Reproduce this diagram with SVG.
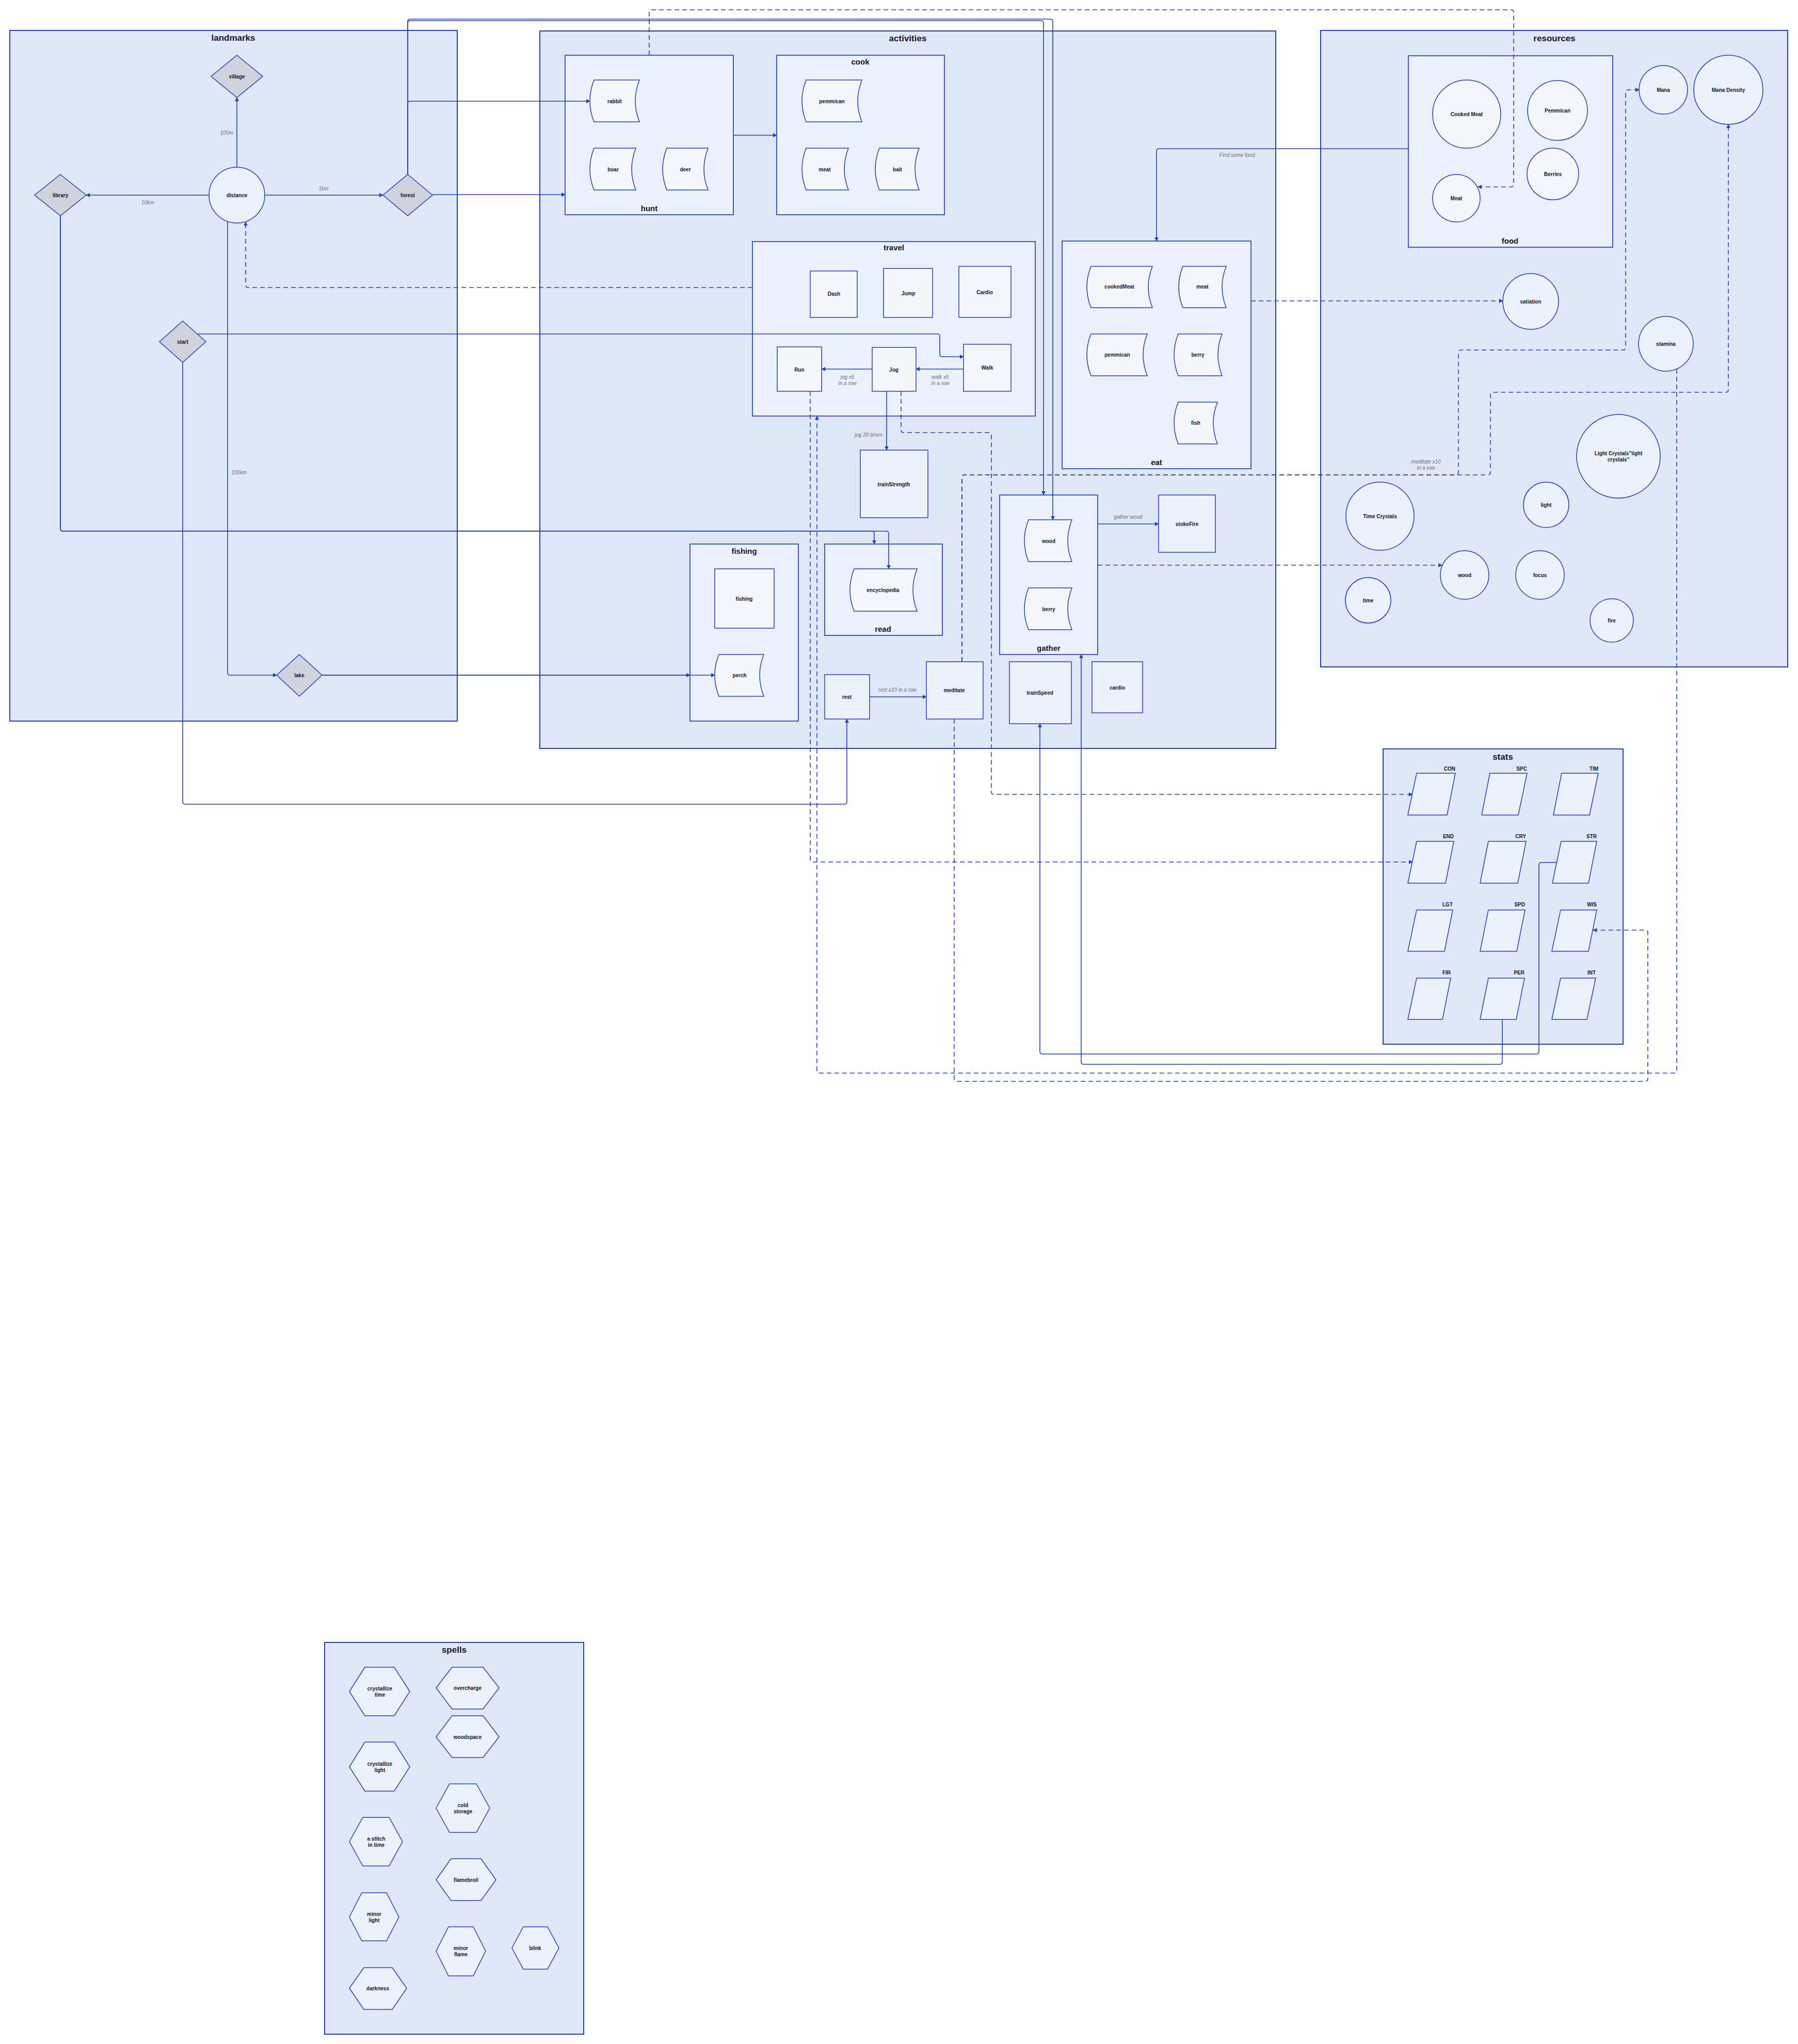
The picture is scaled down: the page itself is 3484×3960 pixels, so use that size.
<svg xmlns="http://www.w3.org/2000/svg" width="3484" height="3960" viewBox="0 0 3484 3960">
<defs>
<style>
.c0{fill:#e0e7f9;stroke:#1f40c8;stroke-width:2}
.c1{fill:#ebf0fc;stroke:#1f40c8;stroke-width:1.7}
.n{fill:#f5f7fd;stroke:#1f40c8;stroke-width:1.5}
.m{fill:#edf1fc;stroke:#1f40c8;stroke-width:1.5}
.d{fill:#d0d2de;stroke:#1f40c8;stroke-width:1.5}
text{font-family:"Liberation Sans",Arial,sans-serif;font-size:10px;font-weight:bold;fill:#111827;text-anchor:middle;dominant-baseline:central}
.tt{font-size:17px}
.ts{font-size:15px}
.sl{text-anchor:end}
.el{font-style:italic;font-weight:normal;fill:#6b7280}
.e{fill:none;stroke:#1f40c8;stroke-width:1.6}
.ed{stroke-dasharray:9 6}
</style>
<marker id="a" viewBox="0 0 10 10" refX="9" refY="5" markerWidth="8" markerHeight="8" markerUnits="userSpaceOnUse" orient="auto"><path d="M0,0 L10,5 L0,10 z" fill="#1f40c8"/></marker>
</defs>
<rect width="3484" height="3960" fill="#ffffff"/>

<g id="clusters">
<g id="landmarks"><rect class="c0" x="19" y="59" width="867" height="1338"/><text class="tt" x="452" y="73">landmarks</text></g>
<g id="activities"><rect class="c0" x="1046" y="60" width="1426" height="1390"/><text class="tt" x="1759" y="74">activities</text></g>
<g id="hunt"><rect class="c1" x="1095" y="107" width="326" height="309"/><text class="ts" x="1258" y="403">hunt</text></g>
<g id="cook"><rect class="c1" x="1505" y="107" width="325" height="309"/><text class="ts" x="1667" y="119">cook</text></g>
<g id="travel"><rect class="c1" x="1458" y="468" width="548" height="338"/><text class="ts" x="1732" y="479">travel</text></g>
<g id="eat"><rect class="c1" x="2058" y="467" width="366" height="441"/><text class="ts" x="2241" y="895">eat</text></g>
<g id="fishingC"><rect class="c1" x="1337" y="1054" width="210" height="343"/><text class="ts" x="1442" y="1067">fishing</text></g>
<g id="read"><rect class="c1" x="1598" y="1054" width="228" height="177"/><text class="ts" x="1711" y="1218">read</text></g>
<g id="gather"><rect class="c1" x="1937" y="959" width="190" height="309"/><text class="ts" x="2032" y="1255">gather</text></g>
<g id="resources"><rect class="c0" x="2559" y="59" width="905" height="1233"/><text class="tt" x="3012" y="74">resources</text></g>
<g id="food"><rect class="c1" x="2729" y="108" width="396" height="371"/><text class="ts" x="2926" y="466">food</text></g>
<g id="stats"><rect class="c0" x="2680" y="1451" width="465" height="572"/><text class="tt" x="2912" y="1466">stats</text></g>
<g id="spells"><rect class="c0" x="629" y="3182" width="502" height="759"/><text class="tt" x="880" y="3196">spells</text></g>
</g>

<g id="connectors">
<path class="e" marker-end="url(#a)" d="M459,324 L459,189"/>
<path class="e" marker-end="url(#a)" d="M405,378 L167,378"/>
<path class="e" marker-end="url(#a)" d="M513,378 L742,378"/>
<path class="e" marker-end="url(#a)" d="M441,429 L441,1303 Q441,1308 446,1308 L536,1308"/>
<path class="e" marker-end="url(#a)" d="M790,338 L790,201 Q790,196 795,196 L1143,196"/>
<path class="e" marker-end="url(#a)" d="M838,377 L1095,377"/>
<path class="e" marker-end="url(#a)" d="M790,338 L790,42 Q790,37 795,37 L2035,37 Q2040,37 2040,42 L2040,1007"/>
<path class="e" marker-end="url(#a)" d="M790,338 L790,45 Q790,40 795,40 L2017,40 Q2022,40 2022,45 L2022,959"/>
<path class="e" marker-end="url(#a)" d="M1421,262 L1505,262"/>
<path class="e ed" marker-end="url(#a)" d="M1258,107 L1258,24 Q1258,19 1263,19 L2928,19 Q2933,19 2933,24 L2933,357 Q2933,362 2928,362 L2864,362"/>
<path class="e ed" marker-end="url(#a)" d="M1458,557 L481,557 Q476,557 476,552 L476,430"/>
<path class="e" marker-end="url(#a)" d="M382,647 L1816,647 Q1821,647 1821,652 L1821,686 Q1821,691 1826,691 L1867,691"/>
<path class="e" marker-end="url(#a)" d="M354,702 L354,1553 Q354,1558 359,1558 L1636,1558 Q1641,1558 1641,1553 L1641,1393"/>
<path class="e" marker-end="url(#a)" d="M117,418 L117,1024 Q117,1029 122,1029 L1689,1029 Q1694,1029 1694,1034 L1694,1054"/>
<path class="e" marker-end="url(#a)" d="M117,418 L117,1024 Q117,1029 122,1029 L1717,1029 Q1722,1029 1722,1034 L1722,1102"/>
<path class="e" marker-end="url(#a)" d="M1867,715 L1775,715"/>
<path class="e" marker-end="url(#a)" d="M1690,715 L1592,715"/>
<path class="e" marker-end="url(#a)" d="M1718,758 L1718,872"/>
<path class="e ed" marker-end="url(#a)" d="M1746,758 L1746,833 Q1746,838 1751,838 L1916,838 Q1921,838 1921,843 L1921,1534 Q1921,1539 1926,1539 L2737,1539"/>
<path class="e ed" marker-end="url(#a)" d="M1570,758 L1570,1665 Q1570,1670 1575,1670 L2737,1670"/>
<path class="e ed" marker-end="url(#a)" d="M3249,715 L3249,2074 Q3249,2079 3244,2079 L1588,2079 Q1583,2079 1583,2074 L1583,806"/>
<path class="e ed" marker-end="url(#a)" d="M1849,1393 L1849,2090 Q1849,2095 1854,2095 L3188,2095 Q3193,2095 3193,2090 L3193,1807 Q3193,1802 3188,1802 L3087,1802"/>
<path class="e ed" marker-end="url(#a)" d="M1864,1282 L1864,925 Q1864,920 1869,920 L2821,920 Q2826,920 2826,915 L2826,683 Q2826,678 2831,678 L3145,678 Q3150,678 3150,673 L3150,179 Q3150,174 3155,174 L3176,174"/>
<path class="e ed" marker-end="url(#a)" d="M1864,1282 L1864,925 Q1864,920 1869,920 L2883,920 Q2888,920 2888,915 L2888,765 Q2888,760 2893,760 L3344,760 Q3349,760 3349,755 L3349,241"/>
<path class="e" marker-end="url(#a)" d="M2729,288 L2246,288 Q2241,288 2241,293 L2241,467"/>
<path class="e ed" marker-end="url(#a)" d="M2424,583 L2912,583"/>
<path class="e" marker-end="url(#a)" d="M2127,1015 L2245,1015"/>
<path class="e ed" marker-end="url(#a)" d="M2127,1095 L2794,1095"/>
<path class="e" marker-end="url(#a)" d="M624,1308 L1337,1308"/>
<path class="e" marker-end="url(#a)" d="M624,1308 L1385,1308"/>
<path class="e" marker-end="url(#a)" d="M3016,1671 L2987,1671 Q2982,1671 2982,1676 L2982,2037 Q2982,2042 2977,2042 L2020,2042 Q2015,2042 2015,2037 L2015,1402"/>
<path class="e" marker-end="url(#a)" d="M2911,1975 L2911,2057 Q2911,2062 2906,2062 L2100,2062 Q2095,2062 2095,2057 L2095,1268"/>
<path class="e" marker-end="url(#a)" d="M1685,1350 L1795,1350"/>
<g id="edge-labels">
<text class="el" x="439" y="257">100m</text>
<text class="el" x="286" y="392">10km</text>
<text class="el" x="627" y="365">1km</text>
<text class="el" x="463" y="915">100km</text>
<text class="el" x="1642" y="730">jog x5</text><text class="el" x="1642" y="742">in a row</text>
<text class="el" x="1822" y="730">walk x5</text><text class="el" x="1822" y="742">in a row</text>
<text class="el" x="1683" y="842">jog 20 times</text>
<text class="el" x="1739" y="1336">rest x10 in a row</text>
<text class="el" x="2186" y="1001">gather wood</text>
<text class="el" x="2397" y="300">Find some food</text>
<text class="el" x="2763" y="894">meditate x10</text><text class="el" x="2763" y="906">in a row</text>
</g>
</g>

<g id="nodes">
<g id="village"><polygon class="d" points="459,107 509,148 459,189 409,148"/><text x="459" y="148">village</text></g>
<g id="distance"><circle class="m" cx="459" cy="378" r="54"/><text x="459" y="378">distance</text></g>
<g id="library"><polygon class="d" points="117,338 167,378 117,418 67,378"/><text x="117" y="378">library</text></g>
<g id="forest"><polygon class="d" points="790,338 838,378 790,418 742,378"/><text x="790" y="378">forest</text></g>
<g id="start"><polygon class="d" points="354,622 399,662 354,702 309,662"/><text x="354" y="662">start</text></g>
<g id="lake"><polygon class="d" points="580,1268 624,1308 580,1349 536,1308"/><text x="580" y="1308">lake</text></g>

<g id="rabbit"><path class="n" d="M1151,155 L1239,155 Q1223,196 1239,236 L1151,236 Q1135,196 1151,155 Z"/><text x="1191" y="196">rabbit</text></g>
<g id="boar"><path class="n" d="M1151,287 L1232,287 Q1216,328 1232,368 L1151,368 Q1135,328 1151,287 Z"/><text x="1188" y="328">boar</text></g>
<g id="deer"><path class="n" d="M1292,287 L1372,287 Q1356,328 1372,368 L1292,368 Q1276,328 1292,287 Z"/><text x="1328" y="328">deer</text></g>
<g id="cook-pemmican"><path class="n" d="M1562,155 L1670,155 Q1654,196 1670,236 L1562,236 Q1546,196 1562,155 Z"/><text x="1612" y="196">pemmican</text></g>
<g id="cook-meat"><path class="n" d="M1562,287 L1644,287 Q1628,328 1644,368 L1562,368 Q1546,328 1562,287 Z"/><text x="1598" y="328">meat</text></g>
<g id="bait"><path class="n" d="M1704,287 L1781,287 Q1765,328 1781,368 L1704,368 Q1688,328 1704,287 Z"/><text x="1739" y="328">bait</text></g>

<g id="Dash"><rect class="n" x="1570" y="525" width="91" height="90"/><text x="1616" y="569">Dash</text></g>
<g id="Jump"><rect class="n" x="1712" y="520" width="95" height="95"/><text x="1760" y="568">Jump</text></g>
<g id="Cardio"><rect class="n" x="1858" y="516" width="101" height="99"/><text x="1908" y="566">Cardio</text></g>
<g id="Run"><rect class="n" x="1506" y="672" width="86" height="86"/><text x="1549" y="716">Run</text></g>
<g id="Jog"><rect class="n" x="1690" y="673" width="85" height="85"/><text x="1732" y="716">Jog</text></g>
<g id="Walk"><rect class="n" x="1867" y="667" width="92" height="91"/><text x="1913" y="712">Walk</text></g>

<g id="cookedMeat"><path class="n" d="M2114,516 L2233,516 Q2217,556 2233,596 L2114,596 Q2098,556 2114,516 Z"/><text x="2169" y="555">cookedMeat</text></g>
<g id="eat-meat"><path class="n" d="M2292,516 L2376,516 Q2360,556 2376,596 L2292,596 Q2276,556 2292,516 Z"/><text x="2330" y="555">meat</text></g>
<g id="eat-pemmican"><path class="n" d="M2114,647 L2223,647 Q2207,687 2223,728 L2114,728 Q2098,687 2114,647 Z"/><text x="2165" y="687">pemmican</text></g>
<g id="eat-berry"><path class="n" d="M2283,647 L2368,647 Q2352,687 2368,728 L2283,728 Q2267,687 2283,647 Z"/><text x="2321" y="687">berry</text></g>
<g id="fish"><path class="n" d="M2283,779 L2359,779 Q2343,819 2359,860 L2283,860 Q2267,819 2283,779 Z"/><text x="2317" y="819">fish</text></g>

<g id="trainStrength"><rect class="m" x="1667" y="872" width="131" height="131"/><text x="1732" y="938">trainStrength</text></g>
<g id="fishing"><rect class="n" x="1385" y="1102" width="115" height="115"/><text x="1442" y="1160">fishing</text></g>
<g id="perch"><path class="n" d="M1393,1268 L1480,1268 Q1464,1308 1480,1349 L1393,1349 Q1377,1308 1393,1268 Z"/><text x="1433" y="1308">perch</text></g>
<g id="encyclopedia"><path class="n" d="M1655,1102 L1777,1102 Q1761,1143 1777,1184 L1655,1184 Q1639,1143 1655,1102 Z"/><text x="1711" y="1143">encyclopedia</text></g>
<g id="rest"><rect class="m" x="1598" y="1307" width="87" height="86"/><text x="1641" y="1350">rest</text></g>
<g id="meditate"><rect class="m" x="1795" y="1282" width="110" height="111"/><text x="1849" y="1337">meditate</text></g>
<g id="gather-wood"><path class="n" d="M1993,1007 L2077,1007 Q2061,1048 2077,1088 L1993,1088 Q1977,1048 1993,1007 Z"/><text x="2032" y="1048">wood</text></g>
<g id="gather-berry"><path class="n" d="M1993,1139 L2077,1139 Q2061,1180 2077,1220 L1993,1220 Q1977,1180 1993,1139 Z"/><text x="2032" y="1180">berry</text></g>
<g id="stokeFire"><rect class="m" x="2245" y="959" width="110" height="111"/><text x="2300" y="1015">stokeFire</text></g>
<g id="trainSpeed"><rect class="m" x="1956" y="1282" width="120" height="120"/><text x="2015" y="1342">trainSpeed</text></g>
<g id="cardio"><rect class="m" x="2116" y="1282" width="98" height="99"/><text x="2165" y="1332">cardio</text></g>

<g id="CookedMeat"><circle class="n" cx="2842" cy="221" r="66"/><text x="2842" y="221">Cooked Meat</text></g>
<g id="Pemmican"><circle class="n" cx="3018" cy="214" r="58"/><text x="3018" y="214">Pemmican</text></g>
<g id="Berries"><circle class="n" cx="3009" cy="337" r="50"/><text x="3009" y="337">Berries</text></g>
<g id="Meat"><circle class="n" cx="2822" cy="384" r="46"/><text x="2822" y="384">Meat</text></g>
<g id="Mana"><circle class="m" cx="3223" cy="174" r="47"/><text x="3223" y="174">Mana</text></g>
<g id="ManaDensity"><circle class="m" cx="3349" cy="174" r="67"/><text x="3349" y="174">Mana Density</text></g>
<g id="satiation"><circle class="m" cx="2966" cy="584" r="54"/><text x="2966" y="584">satiation</text></g>
<g id="stamina"><circle class="m" cx="3228" cy="666" r="53"/><text x="3228" y="666">stamina</text></g>
<g id="LightCrystals"><circle class="m" cx="3136" cy="884" r="81"/><text x="3136" y="878">Light Crystals"light</text><text x="3136" y="890">crystals"</text></g>
<g id="light"><circle class="m" cx="2996" cy="978" r="44"/><text x="2996" y="978">light</text></g>
<g id="TimeCrystals"><circle class="m" cx="2674" cy="1000" r="66"/><text x="2674" y="1000">Time Crystals</text></g>
<g id="wood"><circle class="m" cx="2838" cy="1114" r="47"/><text x="2838" y="1114">wood</text></g>
<g id="focus"><circle class="m" cx="2984" cy="1114" r="47"/><text x="2984" y="1114">focus</text></g>
<g id="time"><circle class="m" cx="2651" cy="1163" r="44"/><text x="2651" y="1163">time</text></g>
<g id="fire"><circle class="m" cx="3123" cy="1202" r="42"/><text x="3123" y="1202">fire</text></g>

<g id="CON"><polygon class="m" points="2745,1498 2820,1498 2804,1579 2728,1579"/><text class="sl" x="2820" y="1489">CON</text></g>
<g id="SPC"><polygon class="m" points="2887,1498 2959,1498 2942,1579 2871,1579"/><text class="sl" x="2959" y="1489">SPC</text></g>
<g id="TIM"><polygon class="m" points="3026,1498 3097,1498 3080,1579 3010,1579"/><text class="sl" x="3097" y="1489">TIM</text></g>
<g id="END"><polygon class="m" points="2745,1630 2817,1630 2801,1711 2728,1711"/><text class="sl" x="2817" y="1620">END</text></g>
<g id="CRY"><polygon class="m" points="2884,1630 2957,1630 2941,1711 2868,1711"/><text class="sl" x="2957" y="1620">CRY</text></g>
<g id="STR"><polygon class="m" points="3025,1630 3094,1630 3078,1711 3008,1711"/><text class="sl" x="3094" y="1620">STR</text></g>
<g id="LGT"><polygon class="m" points="2745,1763 2815,1763 2799,1843 2728,1843"/><text class="sl" x="2815" y="1752">LGT</text></g>
<g id="SPD"><polygon class="m" points="2884,1763 2955,1763 2939,1843 2868,1843"/><text class="sl" x="2955" y="1752">SPD</text></g>
<g id="WIS"><polygon class="m" points="3024,1763 3094,1763 3078,1843 3007,1843"/><text class="sl" x="3094" y="1752">WIS</text></g>
<g id="FIR"><polygon class="m" points="2745,1895 2811,1895 2795,1975 2728,1975"/><text class="sl" x="2811" y="1884">FIR</text></g>
<g id="PER"><polygon class="m" points="2884,1895 2954,1895 2938,1975 2868,1975"/><text class="sl" x="2954" y="1884">PER</text></g>
<g id="INT"><polygon class="m" points="3024,1895 3092,1895 3075,1975 3007,1975"/><text class="sl" x="3092" y="1884">INT</text></g>

<g id="crystallizeTime"><polygon class="m" points="677,3277 707,3230 764,3230 794,3277 764,3324 707,3324"/><text x="736" y="3271">crystallize</text><text x="736" y="3283">time</text></g>
<g id="overcharge"><polygon class="m" points="845,3270 876,3230 936,3230 967,3270 936,3311 876,3311"/><text x="906" y="3270">overcharge</text></g>
<g id="woodspace"><polygon class="m" points="845,3365 876,3324 936,3324 967,3365 936,3405 876,3405"/><text x="906" y="3365">woodspace</text></g>
<g id="crystallizeLight"><polygon class="m" points="677,3423 707,3375 764,3375 794,3423 764,3470 707,3470"/><text x="736" y="3417">crystallize</text><text x="736" y="3429">light</text></g>
<g id="coldStorage"><polygon class="m" points="845,3503 871,3456 923,3456 949,3503 923,3550 871,3550"/><text x="897" y="3497">cold</text><text x="897" y="3509">storage</text></g>
<g id="stitchInTime"><polygon class="m" points="677,3568 703,3521 754,3521 780,3568 754,3615 703,3615"/><text x="729" y="3562">a stitch</text><text x="729" y="3574">in time</text></g>
<g id="flamebroil"><polygon class="m" points="845,3642 874,3601 932,3601 961,3642 932,3682 874,3682"/><text x="903" y="3642">flamebroil</text></g>
<g id="minorLight"><polygon class="m" points="677,3714 701,3667 749,3667 773,3714 749,3760 701,3760"/><text x="725" y="3708">minor</text><text x="725" y="3720">light</text></g>
<g id="minorFlame"><polygon class="m" points="845,3780 869,3733 917,3733 941,3780 917,3828 869,3828"/><text x="893" y="3774">minor</text><text x="893" y="3786">flame</text></g>
<g id="blink"><polygon class="m" points="992,3774 1014,3733 1061,3733 1083,3774 1061,3815 1014,3815"/><text x="1037" y="3774">blink</text></g>
<g id="darkness"><polygon class="m" points="677,3852 705,3812 760,3812 788,3852 760,3893 705,3893"/><text x="732" y="3852">darkness</text></g>
</g>
</svg>
